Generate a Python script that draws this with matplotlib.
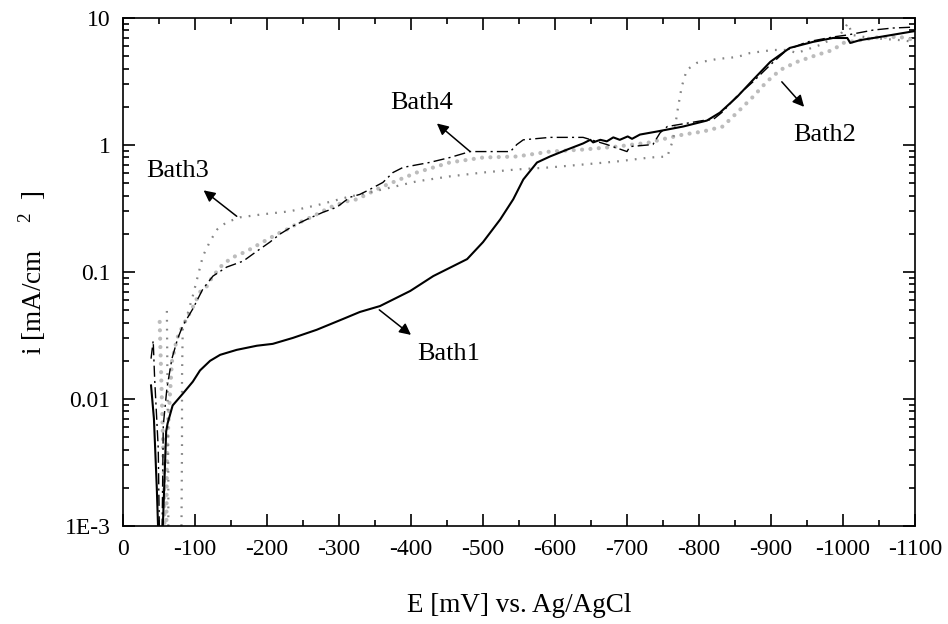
import matplotlib
matplotlib.use('Agg')
import matplotlib.pyplot as plt
from matplotlib.ticker import MultipleLocator, LogLocator, FixedLocator, FuncFormatter

plt.rcParams['font.family'] = ['Liberation Serif', 'DejaVu Serif']
plt.rcParams['mathtext.fontset'] = 'custom'
plt.rcParams['mathtext.rm'] = 'Liberation Serif'
plt.rcParams['axes.unicode_minus'] = False

# potential (mV vs. Ag/AgCl) and current density (mA/cm2) of each bath
bath1_E = [-39, -43, -47, -50, -54, -60, -62, -69, -83, -97, -107, -121, -135, -158, -186,
           -208, -236, -269, -306, -329, -357, -399, -431, -478, -500, -524, -542, -556,
           -575, -593, -617, -639, -649, -653, -663, -672, -681, -690, -701, -707, -718,
           -742, -778, -811, -829, -853, -875, -899, -926, -958, -986, -1006, -1010,
           -1024, -1051, -1100]
bath1_i = [0.0128, 0.00703, 0.00199, 0.0006, 0.0006, 0.00556, 0.00643, 0.0089, 0.0110,
           0.0137, 0.0168, 0.020, 0.0223, 0.0244, 0.0263, 0.0272, 0.0303, 0.0351, 0.0428,
           0.0485, 0.054, 0.071, 0.093, 0.1265, 0.172, 0.26, 0.374, 0.536, 0.729, 0.813,
           0.922, 1.03, 1.10, 1.05, 1.10, 1.07, 1.15, 1.10, 1.17, 1.12, 1.21, 1.28, 1.40,
           1.56, 1.80, 2.40, 3.26, 4.52, 5.82, 6.49, 6.97, 6.97, 6.37, 6.71, 7.10, 7.91]

bath2_E = [-51, -54, -57, -58, -60, -61, -62, -65, -68, -75, -83, -96, -107, -117, -124,
           -139, -153, -172, -194, -214, -228, -246, -264, -288, -311, -325, -361, -408,
           -454, -500, -547, -593, -639, -686, -732, -746, -778, -806, -833, -857, -875,
           -894, -913, -936, -964, -986, -1000, -1024, -1051, -1079, -1100]
bath2_i = [0.0405, 0.0101, 0.0024, 0.0006, 0.0006, 0.00285, 0.0049, 0.0101, 0.0197,
           0.0299, 0.0377, 0.0513, 0.0697, 0.0777, 0.0914, 0.1156, 0.131, 0.146, 0.172,
           0.199, 0.217, 0.247, 0.275, 0.324, 0.361, 0.374, 0.473, 0.608, 0.73, 0.798,
           0.813, 0.889, 0.922, 0.973, 1.05, 1.10, 1.21, 1.28, 1.40, 1.90, 2.40, 3.15,
           3.91, 4.52, 5.13, 5.61, 6.37, 6.71, 7.10, 7.10, 6.71]

bath3_E = [-61, -62, -63, -63, -81, -82, -82, -83, -89, -97, -104, -111, -121, -131, -144,
           -163, -194, -232, -274, -311, -361, -408, -454, -500, -547, -593, -639, -686,
           -732, -756, -764, -771, -776, -783, -797, -825, -853, -871, -903, -922, -936,
           -968, -996, -1007, -1013, -1038, -1079, -1100]
bath3_i = [0.0494, 0.0101, 0.0024, 0.0006, 0.0006, 0.0041, 0.0145, 0.0357, 0.0452, 0.0649,
           0.093, 0.1334, 0.175, 0.217, 0.247, 0.27, 0.285, 0.301, 0.341, 0.388, 0.448,
           0.518, 0.567, 0.608, 0.643, 0.667, 0.703, 0.743, 0.798, 0.813, 1.10, 2.0, 2.88,
           3.91, 4.44, 4.76, 4.94, 5.31, 5.61, 5.61, 5.31, 6.14, 7.36, 9.14, 7.36, 6.97,
           6.71, 6.49]

bath4_E = [-39, -42, -44, -49, -51, -54, -56, -61, -68, -76, -83, -97, -111, -125, -144,
           -167, -186, -204, -218, -236, -256, -278, -297, -315, -329, -343, -361, -375,
           -389, -426, -454, -482, -538, -547, -556, -593, -639, -672, -700, -704, -736,
           -746, -756, -811, -819, -833, -853, -875, -899, -922, -950, -986, -1006, -1042,
           -1069, -1100]
bath4_i = [0.0208, 0.0288, 0.0145, 0.0041, 0.0006, 0.0006, 0.0062, 0.0121, 0.0208, 0.0299,
           0.0377, 0.0513, 0.0736, 0.093, 0.1094, 0.122, 0.146, 0.172, 0.199, 0.23, 0.261,
           0.296, 0.324, 0.388, 0.409, 0.448, 0.508, 0.608, 0.667, 0.73, 0.798, 0.889,
           0.889, 1.01, 1.10, 1.15, 1.15, 1.01, 0.889, 0.973, 1.01, 1.25, 1.40, 1.58, 1.58,
           1.83, 2.44, 3.15, 4.28, 5.61, 6.49, 7.10, 7.36, 8.05, 8.35, 8.5]

x_ticks = [0, -100, -200, -300, -400, -500, -600, -700, -800, -900, -1000, -1100]
y_ticks = [0.001, 0.01, 0.1, 1, 10]
y_tick_labels = ['1E-3', '0.01', '0.1', '1', '10']

# (label, text position, arrow tail, arrow head)
labels = [
    ('Bath1', (-453, 0.0227), (-356, 0.0504), (-400, 0.032)),
    ('Bath2', (-974, 1.21), (-915, 3.15), (-946, 2.0)),
    ('Bath3', (-76, 0.62), (-158, 0.275), (-112, 0.44)),
    ('Bath4', (-415, 2.15), (-482, 0.89), (-436, 1.48)),
]

fig = plt.figure(figsize=(9.48, 6.24), dpi=100)
ax = fig.add_axes([0.1297, 0.157, 0.8355, 0.814])

ax.plot(bath2_E, bath2_i, color='#bcbcbc', lw=3.0, linestyle=(0, (0.01, 2.0)),
        dash_capstyle='round')
ax.plot(bath3_E, bath3_i, color='#858585', lw=1.6, linestyle=(0, (0.8, 3.2)))
ax.plot(bath4_E, bath4_i, color='black', lw=1.0, linestyle=(0, (8, 3, 1.5, 3)))
ax.plot(bath1_E, bath1_i, color='black', lw=1.5)

ax.set_yscale('log')
ax.set_xlim(0, -1100)
ax.set_ylim(0.001, 10)

ax.xaxis.set_major_locator(FixedLocator(x_ticks))
ax.xaxis.set_minor_locator(MultipleLocator(50))
ax.yaxis.set_major_locator(FixedLocator(y_ticks))
ax.yaxis.set_minor_locator(LogLocator(base=10, subs=range(2, 10)))
ylab = dict(zip(y_ticks, y_tick_labels))
ax.yaxis.set_major_formatter(FuncFormatter(
    lambda v, p: min(ylab.items(), key=lambda kv: abs(kv[0] - v) / kv[0])[1]))
ax.yaxis.set_minor_formatter(FuncFormatter(lambda v, p: ''))

ax.tick_params(which='both', direction='in', top=True, right=True, width=1.2,
               labelsize=17)
ax.tick_params(which='major', length=8.5)
ax.tick_params(which='minor', length=4.5)
ax.tick_params(axis='x', pad=9)
ax.tick_params(axis='y', pad=9)
for sp in ax.spines.values():
    sp.set_linewidth(1.2)

ax.set_xlabel('E [mV] vs. Ag/AgCl', fontsize=19.5, labelpad=24)
ax.set_ylabel('i [mA/cm    $^{2}$  ]', fontsize=19.5, labelpad=12)

for name, txt, tail, head in labels:
    ax.text(txt[0], txt[1], name, fontsize=19, ha='center', va='center')
    ax.annotate('', xy=head, xytext=tail,
                arrowprops=dict(arrowstyle='-|>', color='black', lw=1.1,
                                mutation_scale=17, shrinkA=0, shrinkB=0))

fig.savefig('out.png', dpi=100)
